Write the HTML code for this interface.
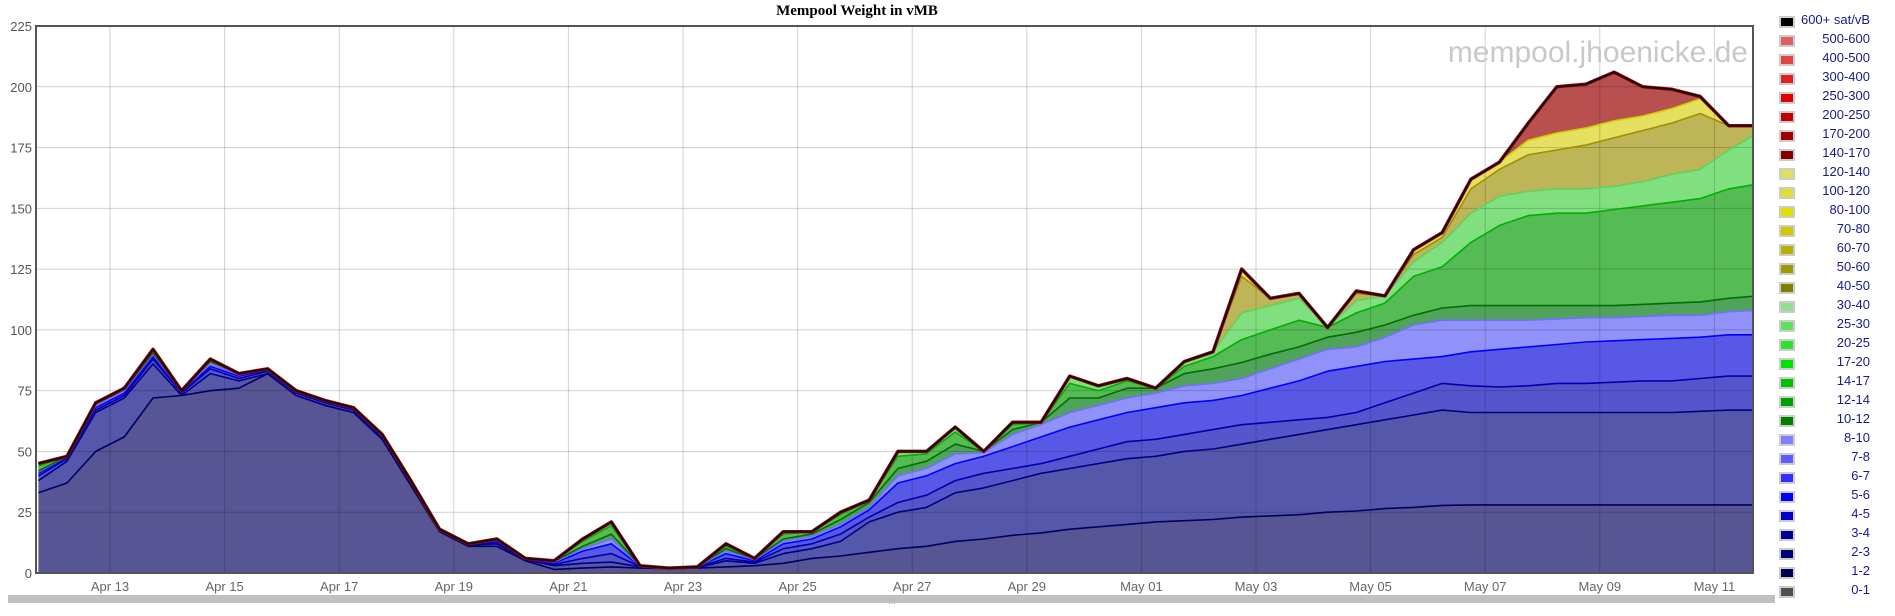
<!DOCTYPE html>
<html><head><meta charset="utf-8"><title>Mempool Weight in vMB</title>
<style>
html,body{margin:0;padding:0;background:#fff;}
body{width:1895px;height:616px;overflow:hidden;position:relative;font-family:"Liberation Sans",sans-serif;}
#legend{position:absolute;left:1775px;top:0;width:100px;}
.lrow{position:absolute;left:0;width:96px;height:19px;}
.sw{position:absolute;left:4px;top:3px;width:12px;height:8px;border:2px solid #ccc;}
.lt{position:absolute;right:1px;top:-1px;font-size:13px;color:#1a1a8c;white-space:nowrap;}
</style></head>
<body>
<svg id="chart" width="1895" height="616" style="position:absolute;left:0;top:0">
  <text x="857" y="15" text-anchor="middle" font-family="Liberation Serif, serif" font-weight="bold" font-size="15" fill="#000">Mempool Weight in vMB</text>
  <defs><clipPath id="pc"><rect x="36" y="26" width="1717" height="547"/></clipPath></defs>
  <g id="areas" clip-path="url(#pc)"></g>
  <g id="grid" clip-path="url(#pc)"></g>
  <g id="lines" clip-path="url(#pc)"></g>
  <text x="1748" y="62" text-anchor="end" font-size="30" fill="#c8c8c8" font-family="Liberation Sans, sans-serif">mempool.jhoenicke.de</text>
  <rect x="36" y="26" width="1717" height="547" fill="none" stroke="#555" stroke-width="2"/>
  <g id="yaxis"></g>
  <g id="xaxis"></g>
  <rect x="8" y="595" width="1767" height="8" fill="#c0c0c0"/>
  <text x="892" y="604" text-anchor="middle" font-size="8" fill="#888">:::</text>
</svg>
<div id="legend"></div>
<script>
// time in days relative to Apr 13 00:00
const times = [-1.25,-0.75,-0.25,0.25,0.75,1.25,1.75,2.25,2.75,3.25,3.75,4.25,4.75,5.25,5.75,6.25,6.75,7.25,7.75,8.25,8.75,9.25,9.75,10.25,10.75,11.25,11.75,12.25,12.75,13.25,13.75,14.25,14.75,15.25,15.75,16.25,16.75,17.25,17.75,18.25,18.75,19.25,19.75,20.25,20.75,21.25,21.75,22.25,22.75,23.25,23.75,24.25,24.75,25.25,25.75,26.25,26.75,27.25,27.75,28.25,28.75];
const totalWeight = [45,48,70,76,92,75,88,82,84,75,71,68,57,38,18,12,14,6,5,14,21,3,2,2.5,12,6,17,17,25,30,50,50,60,50,62,62,81,77,80,76,87,91,125,113,115,101,116,114,133,140,162,169,185,200,201,206,200,199,196,184,184];
const upTo1 = [33,37,50,56,72,73,75,76,82,73,69,66,55,36,17,11,11,5,1.5,2,2.5,2,1.8,2,2.5,3,4,6,7,8.5,10,11,13,14,15.5,16.5,18,19,20,21,21.5,22,23,23.5,24,25,25.5,26.5,27,27.8,28,28,28,28,28,28,28,28,28,28,28];
const upTo2 = [38,46,66,72,86,73,82,79,82,73,69,66,55,37,17.5,11.5,12,5.5,3,4,4.5,2.5,1.9,2.2,5,4,8,10,13,21,25,27,33,35,38,41,43,45,47,48,50,51,53,55,57,59,61,63,65,67,66,66,66,66,66,66,66,66,66.5,67,67];
const upTo4 = [40,47,67,73,88,74,84,80,83,74,70,67,56,37.5,17.7,11.7,12.5,5.7,3.5,6,8,2.7,2,2.3,6,4.5,10,12,16,23,29,32,38,41,43,45,48,51,54,55,57,59,61,62,63,64,66,70,74,78,77,76.5,77,78,78,78.5,79,79,80,81,81];
const upTo8 = [41,47.5,68,74,89,74.5,85,81,83.5,74.5,70.5,67.5,56.5,37.8,17.9,11.9,13,5.8,4,9,12,2.8,2,2.4,8,5,12,14,19,26,37,40,45,48,52,56,60,63,66,68,70,71,73,76,79,83,85,87,88,89,91,92,93,94,95,95.5,96,96.5,97,98,98];
const upTo10 = [41.5,48,69,75,90,75,86,81.5,84,75,71,68,57,38,18,12,13.5,5.9,4.5,10,14,2.9,2,2.5,9,5.5,13,15,20,27,40,43,49,49.5,57,61,66,69,72,74,77,78,80,84,88,92,93,97,102,104,104,104,104,104.5,105,105,105.5,106,106,107.5,108];
const upTo12 = [42,48,69.5,75.5,90.5,75,87,82,84,75,71,68,57,38,18,12,14,6,4.7,11,16,3,2,2.5,10,5.8,14,16,22,29,43,46,53,50,59,62,72,72,76,76,82,84,86.6,90,93,97,99,102,106,109,110,110,110,110,110,110,110.5,111,111.5,113,114];
const upTo20 = [44,48,70,76,91.5,75,88,82,84,75,71,68,57,38,18,12,14,6,5,13,19.5,3,2,2.5,11,6,16,17,24,30,48,49,58,50,61,62,78,75,79,76,85,89,96,100,104,101,107,111,122,126,136,143,147,148,148,149.5,151,152.5,154,158,160];
const upTo40 = [45,48,70,76,92,75,88,82,84,75,71,68,57,38,18,12,14,6,5,14,21,3,2,2.5,12,6,17,17,25,30,50,50,60,50,62,62,81,77,80,76,87,91,107,110,113,101,112,114,128,136,148,155,157,158,158,159,161,164,166,174,181];
const upTo100 = [45,48,70,76,92,75,88,82,84,75,71,68,57,38,18,12,14,6,5,14,21,3,2,2.5,12,6,17,17,25,30,50,50,60,50,62,62,81,77,80,76,87,91,122,113,115,101,115,114,131,138,158,166,172,174,176,179,182,185,189,184,184];
const upTo140 = [45,48,70,76,92,75,88,82,84,75,71,68,57,38,18,12,14,6,5,14,21,3,2,2.5,12,6,17,17,25,30,50,50,60,50,62,62,81,77,80,76,87,91,125,113,115,101,116,114,133,140,162,169,178,181,183,186,188,191,195,184,184];
const yTicks = [0,25,50,75,100,125,150,175,200,225];
const xTickDays = [0,2,4,6,8,10,12,14,16,18,20,22,24,26,28];
const xTickLabels = ["Apr 13","Apr 15","Apr 17","Apr 19","Apr 21","Apr 23","Apr 25","Apr 27","Apr 29","May 01","May 03","May 05","May 07","May 09","May 11"];
const legendLabels = ["600+ sat/vB","500-600","400-500","300-400","250-300","200-250","170-200","140-170","120-140","100-120","80-100","70-80","60-70","50-60","40-50","30-40","25-30","20-25","17-20","14-17","12-14","10-12","8-10","7-8","6-7","5-6","4-5","3-4","2-3","1-2","0-1"];
const legendColors = ["#000000","#e06060","#e04444","#e02020","#e00000","#c00000","#a00000","#800000","#e0e060","#e0e030","#e0e000","#d0c800","#b8b000","#a09800","#808000","#90e090","#60e060","#30e030","#00e000","#00c000","#00a000","#008000","#8080ff","#5c5cff","#3030ff","#0000ff","#0000c8","#000090","#000070","#000050","#505050"];

const NS = "http://www.w3.org/2000/svg";
const X0 = 110, PXD = 57.3, YB = 573, PXV = 547/225;
function xs(d){ return X0 + PXD*d; }
function ys(v){ return YB - v*PXV; }

const levelsRaw = [upTo1, upTo2, upTo4, upTo8, upTo10, upTo12, upTo20, upTo40, upTo100, upTo140, totalWeight];
const levelNames = ["band-0-1","band-1-2","band-2-4","band-4-8","band-8-10","band-10-12","band-12-20","band-20-40","band-40-100","band-100-140","band-140-plus"];
const fills = ["#575594","#5557ab","#5656cc","#5858e6","#9092fa","#4fa35a","#55bb55","#80e080","#bdb557","#e6e060","#b85050"];
const strokes = ["#000060","#000080","#0000a8","#0000ff","#7070ff","#007000","#00b000","#60d060","#a09000","#d0d000"];
const levels = [];
for (let k=0;k<levelsRaw.length;k++){
  levels.push(levelsRaw[k].map((v,i)=>{
    let t = totalWeight[i];
    let lo = k>0 ? levels[k-1][i] : 0;
    return Math.max(lo, Math.min(v, t));
  }));
}
const areas = document.getElementById('areas');
for (let k=0;k<levels.length;k++){
  const up = levels[k], lo = k>0 ? levels[k-1] : times.map(()=>0);
  let d = "";
  times.forEach((t,i)=>{ d += (i?"L":"M")+xs(t).toFixed(1)+","+ys(up[i]).toFixed(1); });
  for (let i=times.length-1;i>=0;i--) d += "L"+xs(times[i]).toFixed(1)+","+ys(lo[i]).toFixed(1);
  d += "Z";
  const p = document.createElementNS(NS,'path');
  p.setAttribute('d', d);
  p.setAttribute('fill', fills[k]);
  
  
  areas.appendChild(p);
}
const grid = document.getElementById('grid');
yTicks.forEach(v=>{
  const l = document.createElementNS(NS,'line');
  l.setAttribute('x1',36); l.setAttribute('x2',1753);
  l.setAttribute('y1',ys(v)); l.setAttribute('y2',ys(v));
  l.setAttribute('stroke','rgba(0,0,0,0.18)'); l.setAttribute('stroke-width','1');
  
  
  grid.appendChild(l);
});
xTickDays.forEach(d=>{
  const l = document.createElementNS(NS,'line');
  l.setAttribute('x1',xs(d)); l.setAttribute('x2',xs(d));
  l.setAttribute('y1',26); l.setAttribute('y2',573);
  l.setAttribute('stroke','rgba(0,0,0,0.18)'); l.setAttribute('stroke-width','1');
  
  
  grid.appendChild(l);
});
const lines = document.getElementById('lines');
function addLine(vals, color, w, name){
  let d="";
  times.forEach((t,i)=>{ d += (i?"L":"M")+xs(t).toFixed(1)+","+ys(vals[i]).toFixed(1); });
  const p = document.createElementNS(NS,'path');
  p.setAttribute('d', d); p.setAttribute('fill','none');
  p.setAttribute('stroke', color); p.setAttribute('stroke-width', w);
  p.setAttribute('stroke-linejoin','round');
  
  
  lines.appendChild(p);
}
for (let k=0;k<strokes.length;k++) addLine(levels[k], strokes[k], 1.6, levelNames[k]+'-line');
addLine(totalWeight, '#c00000', 3.5, 'total-line-red');
addLine(totalWeight, '#111', 2.2, 'total-line');

const yaxis = document.getElementById('yaxis');
yTicks.forEach(v=>{
  const t = document.createElementNS(NS,'text');
  t.setAttribute('x',32); t.setAttribute('y',ys(v)+5);
  t.setAttribute('text-anchor','end'); t.setAttribute('font-size','13');
  t.setAttribute('fill','#555');
  
  
  t.textContent = v;
  yaxis.appendChild(t);
});
const xaxis = document.getElementById('xaxis');
xTickDays.forEach((d,i)=>{
  const t = document.createElementNS(NS,'text');
  t.setAttribute('x',xs(d)); t.setAttribute('y',591);
  t.setAttribute('text-anchor','middle'); t.setAttribute('font-size','13');
  t.setAttribute('fill','#666');
  
  
  t.textContent = xTickLabels[i];
  xaxis.appendChild(t);
});
const legend = document.getElementById('legend');
legendLabels.forEach((lab,i)=>{
  const row = document.createElement('div');
  row.className='lrow'; row.style.top=(13+19*i)+'px';
  
  
  const sw = document.createElement('div');
  sw.className='sw'; sw.style.background=legendColors[i];
  
  
  const tx = document.createElement('div');
  tx.className='lt'; tx.textContent=lab;
  
  
  row.appendChild(sw); row.appendChild(tx);
  legend.appendChild(row);
});
</script>
</body></html>
